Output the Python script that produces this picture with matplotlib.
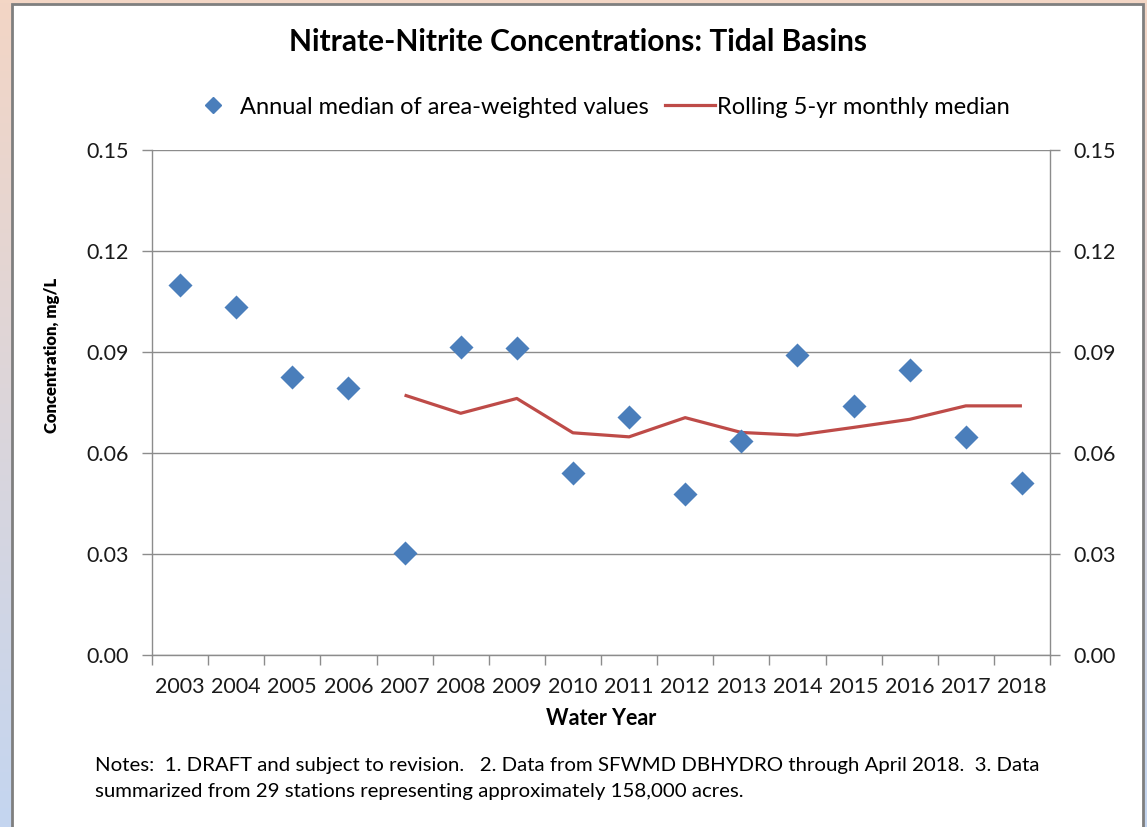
import numpy as np
import matplotlib
matplotlib.use("Agg")
import matplotlib.pyplot as plt
from matplotlib.patches import Rectangle
from matplotlib.lines import Line2D

plt.rcParams['font.family'] = ['Lato', 'DejaVu Sans']

years = ['2003', '2004', '2005', '2006', '2007', '2008', '2009', '2010',
         '2011', '2012', '2013', '2014', '2015', '2016', '2017', '2018']
annual_median = [0.1099, 0.1033, 0.0825, 0.0792, 0.0304, 0.0916, 0.0911, 0.0540,
                 0.0708, 0.0478, 0.0636, 0.0891, 0.0741, 0.0847, 0.0648, 0.0512]
rolling_years = ['2007', '2008', '2009', '2010', '2011', '2012',
                 '2013', '2014', '2015', '2016', '2017', '2018']
rolling_median = [0.0772, 0.0718, 0.0762, 0.0660, 0.0648, 0.0705,
                  0.0661, 0.0653, 0.0676, 0.0700, 0.0740, 0.0740]
y_ticks = [0.00, 0.03, 0.06, 0.09, 0.12, 0.15]

W, H = 1147, 827
fig = plt.figure(figsize=(W / 100, H / 100), dpi=100)

# gradient backdrop (peach -> blue) and white chart box
bg = fig.add_axes([0, 0, 1, 1])
top_c = np.array([243, 214, 197]) / 255
bot_c = np.array([196, 213, 240]) / 255
t = np.linspace(0, 1, 256)[:, None]
grad = top_c[None, :] * (1 - t) + bot_c[None, :] * t
bg.imshow(grad[:, None, :], aspect='auto', extent=[0, W, H, 0])
bg.set_xlim(0, W)
bg.set_ylim(H, 0)
bg.add_patch(Rectangle((12, 4), 1131, 830, facecolor='white',
                       edgecolor='#7f7f7f', linewidth=2))
bg.axis('off')

ax = fig.add_axes([152 / W, 1 - 655 / H, (1050 - 152) / W, (655 - 150) / H])
ax.set_facecolor('none')
x = np.arange(len(years))
xr = [years.index(y) for y in rolling_years]

ax.plot(xr, rolling_median, color='#be4b48', linewidth=2.3, zorder=3,
        solid_capstyle='butt')
ax.scatter(x, annual_median, marker='D', s=150, color='#4a7ebb', zorder=4,
           linewidths=0)

ax.set_xlim(-0.5, len(years) - 0.5)
ax.set_ylim(0, 0.15)
ax.set_yticks(y_ticks)
ax.set_yticklabels(['%.2f' % v for v in y_ticks])
ax.yaxis.grid(True, color='#8c8c8c', linewidth=1)
ax.set_axisbelow(True)

ax.set_xticks(x)
ax.set_xticklabels(years)
ax.set_xticks(np.arange(-0.5, len(years)), minor=True)
ax.tick_params(axis='x', which='major', length=0, pad=16, labelsize=15.5,
               colors='#1a1a1a')
ax.tick_params(axis='x', which='minor', length=7, color='#8c8c8c', width=1)
ax.tick_params(axis='y', length=7, color='#8c8c8c', width=1, labelsize=15.5,
               pad=10, labelcolor='#1a1a1a', right=True, labelright=True)

for s in ['left', 'right', 'bottom']:
    ax.spines[s].set_color('#8c8c8c')
    ax.spines[s].set_linewidth(1)
ax.spines['top'].set_visible(False)

ax.set_xlabel('Water Year', fontsize=15.5, fontweight='bold', labelpad=8)
fig.text(52 / W, 1 - 355 / H, 'Concentration, mg/L', rotation=90,
         ha='center', va='center', fontsize=12, fontweight='heavy')

fig.text(578 / W, 1 - 42 / H, 'Nitrate-Nitrite Concentrations: Tidal Basins',
         ha='center', va='center', fontsize=21.5, fontweight='bold')

handles = [Line2D([], [], marker='D', color='#4a7ebb', linestyle='none',
                  markersize=8),
           Line2D([], [], color='#be4b48', linewidth=2.3)]
fig.legend(handles, ['Annual median of area-weighted values',
                     'Rolling 5-yr monthly median'],
           loc='center', bbox_to_anchor=(599 / W, 1 - 107 / H), ncol=2,
           frameon=False, fontsize=17, handlelength=2.1, columnspacing=0.7,
           handletextpad=0.1)

fig.text(95 / W, 1 - 765 / H,
         'Notes:  1. DRAFT and subject to revision.   2. Data from SFWMD DBHYDRO '
         'through April 2018.  3. Data', ha='left', va='center', fontsize=14.7)
fig.text(95 / W, 1 - 792 / H,
         'summarized from 29 stations representing approximately 158,000 acres.',
         ha='left', va='center', fontsize=14.7)

fig.savefig('out.png', dpi=100)
